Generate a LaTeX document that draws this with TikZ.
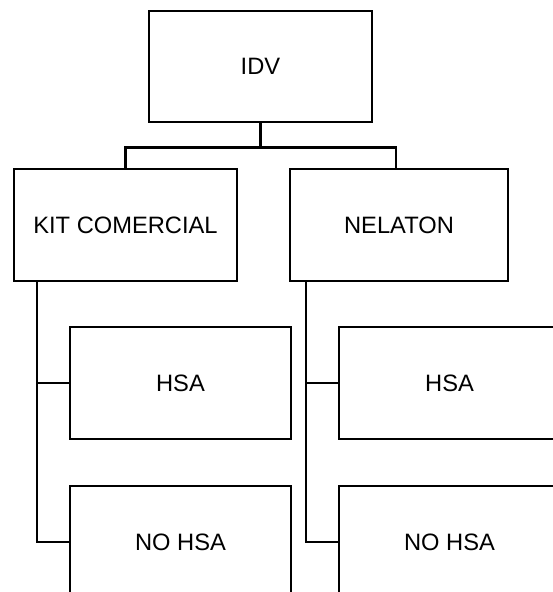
\documentclass[tikz,border=0pt]{standalone}
\usepackage{fontspec}
\setmainfont{Liberation Sans}
\begin{document}
\begin{tikzpicture}[x=1pt,y=-1pt,
  box/.style={draw, line width=2.5pt, rectangle, minimum width=221pt, minimum height=112pt, inner sep=0pt, font=\fontsize{23.7}{28}\selectfont},
  link/.style={line width=2.7pt, line join=miter}]
\useasboundingbox (0,0) rectangle (553,592);
\clip (0,0) rectangle (553,592);
\node[box, minimum width=223pt, minimum height=111pt] (idv) at (260.5,66.4) {IDV};
\node[box, minimum width=223pt] (kit) at (125.5,225) {KIT COMERCIAL};
\node[box, minimum width=218pt] (nel) at (399,225) {NELATON};
\node[box] (hsal) at (180.5,383) {HSA};
\node[box] (hsar) at (449.5,383) {HSA};
\node[box] (nohsal) at (180.5,542) {NO HSA};
\node[box] (nohsar) at (449.5,542) {NO HSA};
\draw[link] (idv.south) -- ++(0,24) -| (kit.north);
\draw[link] (idv.south) -- ++(0,24) -| ([xshift=-3pt]nel.north);
\draw[link] ([xshift=-88.5pt]kit.south) |- (hsal.west);
\draw[link] ([xshift=-88.5pt]kit.south) |- (nohsal.west);
\draw[link] ([xshift=-93pt]nel.south) |- (hsar.west);
\draw[link] ([xshift=-93pt]nel.south) |- (nohsar.west);
\end{tikzpicture}
\end{document}
